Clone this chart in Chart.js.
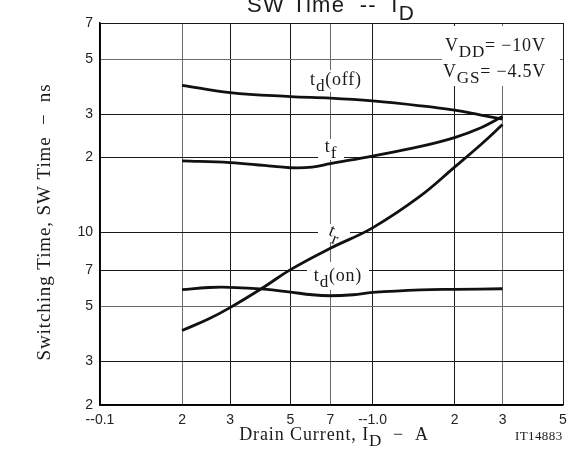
<!DOCTYPE html>
<html>
<head>
<meta charset="utf-8">
<script src="https://cdn.jsdelivr.net/npm/chart.js@4.4.1/dist/chart.umd.min.js"></script>
<style>
  html, body { margin: 0; padding: 0; background: #fff; }
  canvas { display: block; }
</style>
</head>
<body>
<canvas id="sw-chart" width="579" height="466"></canvas>
<script>
// --- Data (drain current in A, time in ns) ---
const xTicks = [0.1, 0.2, 0.3, 0.5, 0.7, 1, 2, 3, 5];
const xTickLabels = ['--0.1', '2', '3', '5', '7', '--1.0', '2', '3', '5'];
const yTicks = [2, 3, 5, 7, 10, 20, 30, 50, 70];
const yTickLabels = ['2', '3', '5', '7', '10', '2', '3', '5', '7'];

const tdOffI = [0.2, 0.3, 0.5, 0.7, 1.0, 1.5, 2, 2.5, 3];
const tdOffT = [39.2, 36.6, 35.3, 34.8, 33.9, 32.4, 31.1, 29.7, 28.6];

const tfI = [0.2, 0.3, 0.4, 0.5, 0.6, 0.7, 1.0, 1.5, 2, 2.5, 3];
const tfT = [19.4, 19.1, 18.6, 18.2, 18.3, 18.9, 20.3, 22.2, 24.1, 26.4, 29.3];

const trI = [0.2, 0.25, 0.3, 0.4, 0.5, 0.7, 1.0, 1.5, 2, 2.5, 3];
const trT = [4.0, 4.45, 4.95, 6.0, 7.05, 8.6, 10.4, 14.0, 18.3, 22.6, 27.2];

const tdOnI = [0.2, 0.25, 0.3, 0.4, 0.5, 0.6, 0.7, 0.85, 1.0, 1.5, 2, 3];
const tdOnT = [5.85, 5.97, 5.98, 5.88, 5.72, 5.58, 5.53, 5.58, 5.7, 5.84, 5.87, 5.9];

const lightX = [0.2, 0.7, 3];
const lightY = [5, 50];

const SERIF = '"Liberation Serif", "DejaVu Serif", serif';
const SANS = '"Liberation Sans", Arial, sans-serif';

function pts(xs, ys) {
    return xs.map((x, i) => ({ x: x, y: ys[i] }));
}

function curve(xs, ys) {
    return {
        data: pts(xs, ys),
        borderColor: '#111',
        borderWidth: 2.8,
        pointRadius: 0,
        fill: false,
        tension: 0.4,
    };
}

// text with subscripts: parts = [[text, isSub], ...]
function drawRich(ctx, parts, x, y, size, family, align, spacing) {
    ctx.letterSpacing = (spacing || 0) + 'px';
    let w = 0;
    parts.forEach(p => {
        ctx.font = `${p[1] ? size * 0.95 : size}px ${family}`;
        w += ctx.measureText(p[0]).width;
    });
    let cx = align === 'center' ? x - w / 2 : x;
    ctx.textBaseline = 'alphabetic';
    ctx.textAlign = 'left';
    parts.forEach(p => {
        ctx.font = `${p[1] ? size * 0.95 : size}px ${family}`;
        ctx.fillText(p[0], cx, p[1] ? y + size * 0.36 : y);
        cx += ctx.measureText(p[0]).width;
    });
    ctx.letterSpacing = '0px';
}

const labelsPlugin = {
    id: 'labels',
    beforeDatasetsDraw(chart) {
        const ctx = chart.ctx;
        ctx.save();
        ctx.fillStyle = '#fff';
        ctx.fillRect(306, 70, 60, 22);   // td(off)
        ctx.fillRect(318, 139, 26, 21);  // tf
        ctx.fillRect(318, 224, 32, 18);  // tr
        ctx.fillRect(307, 262, 62, 28);  // td(on)
        ctx.fillRect(442, 26, 118, 60);  // conditions
        ctx.restore();
    },
    afterDraw(chart) {
        const ctx = chart.ctx;
        ctx.save();
        ctx.fillStyle = '#1a1a1a';

        // title (clipped at top like the original)
        drawRich(ctx, [['SW Time  --  I', false], ['D', true]], 331, 12, 22, SANS, 'center', 1.2);

        // curve labels
        drawRich(ctx, [['t', false], ['d', true], ['(off)', false]], 336, 85, 18, SERIF, 'center', 0.8);
        drawRich(ctx, [['t', false], ['f', true]], 331, 152, 18, SERIF, 'center', 0.8);
        ctx.save();
        ctx.translate(334, 235);
        ctx.rotate(22 * Math.PI / 180);
        drawRich(ctx, [['t', false], ['r', true]], 0, 2, 18, SERIF, 'center', 0.5);
        ctx.restore();
        drawRich(ctx, [['t', false], ['d', true], ['(on)', false]], 338, 281, 18, SERIF, 'center', 0.8);

        // test conditions
        drawRich(ctx, [['V', false], ['DD', true], ['= \u221210V', false]], 445, 51, 18, SERIF, 'left', 0.8);
        drawRich(ctx, [['V', false], ['GS', true], ['= \u22124.5V', false]], 443, 77, 18, SERIF, 'left', 0.8);

        // axis titles
        drawRich(ctx, [['Drain Current, I', false], ['D', true], ['  \u2212  A', false]], 334, 440, 18, SERIF, 'center', 0.9);
        drawRich(ctx, [['IT14883', false]], 515, 440, 13, SERIF, 'left', 0.4);

        ctx.translate(50, 222);
        ctx.rotate(-Math.PI / 2);
        drawRich(ctx, [['Switching Time, SW Time  \u2212  ns', false]], 0, 0, 19, SERIF, 'center', 0.9);
        ctx.restore();
    }
};

new Chart(document.getElementById('sw-chart'), {
    type: 'line',
    data: {
        datasets: [
            curve(tdOffI, tdOffT),
            curve(tfI, tfT),
            curve(trI, trT),
            curve(tdOnI, tdOnT),
        ]
    },
    options: {
        responsive: false,
        animation: false,
        layout: { padding: { left: 0, top: 23, right: 16, bottom: 0 } },
        plugins: { legend: { display: false }, tooltip: { enabled: false } },
        scales: {
            x: {
                type: 'logarithmic',
                min: 0.1,
                max: 5,
                afterBuildTicks: s => { s.ticks = xTicks.map(v => ({ value: v })); },
                afterFit: s => { s.height = 61; },
                grid: {
                    drawTicks: false,
                    lineWidth: 1,
                    color: c => lightX.includes(c.tick && c.tick.value) ? '#6a6a6a' : '#1a1a1a',
                },
                border: { color: '#000', width: 1.5 },
                ticks: {
                    autoSkip: false,
                    maxRotation: 0,
                    padding: 7,
                    color: '#222',
                    font: { family: SANS, size: 14 },
                    callback: (v, i) => xTickLabels[i],
                },
            },
            y: {
                type: 'logarithmic',
                min: 2,
                max: 70,
                afterBuildTicks: s => { s.ticks = yTicks.map(v => ({ value: v })); },
                afterFit: s => { s.width = 100; },
                grid: {
                    drawTicks: false,
                    lineWidth: 1,
                    color: c => lightY.includes(c.tick && c.tick.value) ? '#6a6a6a' : '#1a1a1a',
                },
                border: { color: '#000', width: 1.5 },
                ticks: {
                    autoSkip: false,
                    padding: 7,
                    color: '#222',
                    font: { family: SANS, size: 14 },
                    callback: (v, i) => yTickLabels[i],
                },
            },
        },
    },
    plugins: [labelsPlugin],
});
</script>
</body>
</html>
